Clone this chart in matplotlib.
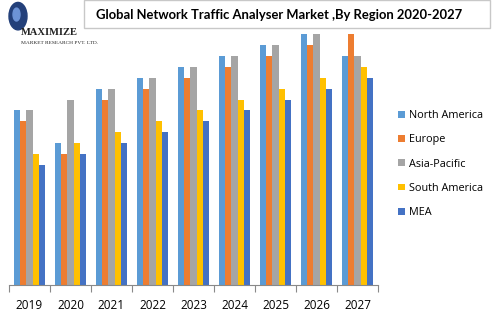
import matplotlib.pyplot as plt
import numpy as np
from matplotlib.patches import Rectangle, Ellipse

years = ['2019', '2020', '2021', '2022', '2023', '2024', '2025', '2026', '2027']
regions = ['North America', 'Europe', 'Asia-Pacific', 'South America', 'MEA']
north_america = [16, 13, 18, 19, 20, 21, 22, 23, 21]
europe = [15, 12, 17, 18, 19, 20, 21, 22, 23]
asia_pacific = [16, 17, 18, 19, 20, 21, 22, 23, 21]
south_america = [12, 13, 14, 15, 16, 17, 18, 19, 20]
mea = [11, 12, 13, 14, 15, 16, 17, 18, 19]
series = [north_america, europe, asia_pacific, south_america, mea]
colors = ['#5B9BD5', '#ED7D31', '#A5A5A5', '#FFC000', '#4472C4']

fig = plt.figure(figsize=(5, 3.23), dpi=100)
ax = fig.add_axes([0.018, 0.1176, 0.738, 0.777])

x = np.arange(len(years))
w = 0.15
for i, (vals, c, name) in enumerate(zip(series, colors, regions)):
    ax.bar(x + (i - 2) * w, vals, w, color=c, label=name)

ax.set_xlim(-0.5, len(years) - 0.5)
ax.set_ylim(0, 23)
for s in ['top', 'right', 'left']:
    ax.spines[s].set_visible(False)
ax.spines['bottom'].set_color('#898989')
ax.set_yticks([])
ax.set_xticks(np.arange(-0.5, len(years)), minor=False)
ax.set_xticklabels([])
ax.tick_params(axis='x', which='major', length=5, color='#898989')
ax.set_xticks(x, minor=True)
ax.set_xticklabels(years, minor=True, fontsize=8.5, family='Open Sans')
ax.tick_params(axis='x', which='minor', length=0, pad=10)

fig.legend(loc='center left', bbox_to_anchor=(0.796, 0.492), frameon=False,
           prop={'family': 'Open Sans', 'size': 7.8}, handlelength=0.6,
           handleheight=0.6, handletextpad=0.4, labelspacing=1.22,
           borderaxespad=0, borderpad=0)

# title box
fig.patches.append(Rectangle((0.168, 0.912), 0.812, 0.088, transform=fig.transFigure,
                             fill=False, edgecolor='#C8C8C8', lw=1))
fig.text(0.558, 0.953, 'Global Network Traffic Analyser Market ,By Region 2020-2027',
         ha='center', va='center', fontsize=9.4, fontweight='bold', family='Lato')

# logo
fig.patches.append(Ellipse((0.036, 0.95), 0.036, 0.085, transform=fig.transFigure,
                           color='#23407A'))
fig.patches.append(Ellipse((0.033, 0.955), 0.014, 0.04, transform=fig.transFigure,
                           color='#6C93D6'))
fig.text(0.042, 0.9, 'MAXIMIZE', fontsize=7.6, family='Liberation Serif',
         fontweight='bold', ha='left', va='center', color='#222222')
fig.text(0.042, 0.866, 'MARKET RESEARCH PVT. LTD.', fontsize=3.9,
         family='Liberation Serif', ha='left', va='center', color='#222222')

fig.savefig('out.png', dpi=100)
